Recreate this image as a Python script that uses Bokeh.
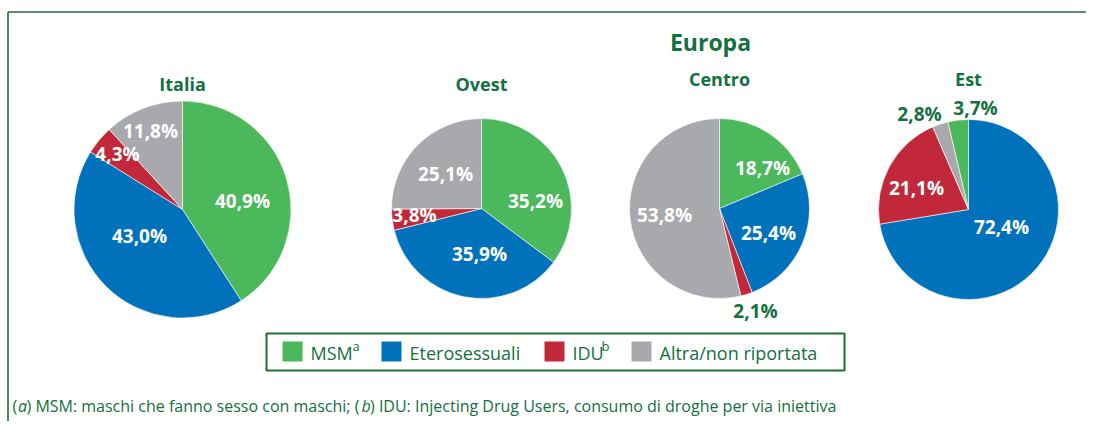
import numpy as np
from bokeh.plotting import figure
from bokeh.models import Range1d, ColumnDataSource
from bokeh.core.properties import value
from bokeh.embed import file_html
from bokeh.resources import INLINE

# ---------------- data ----------------
categories = ["MSM", "Eterosessuali", "IDU", "Altra/non riportata"]
regions = ["Italia", "Ovest", "Centro", "Est"]
italia = [40.9, 43.0, 4.3, 11.8]
ovest = [35.2, 35.9, 3.8, 25.1]
centro = [18.7, 25.4, 2.1, 53.8]
est = [3.7, 72.4, 21.1, 2.8]
group_title = "Europa"
footnote = ["(", "a", ") MSM: maschi che fanno sesso con maschi; (", "b",
            ") IDU: Injecting Drug Users, consumo di droghe per via iniettiva"]

# ---------------- style / layout ----------------
colors = ["#4BB85C", "#0072BC", "#C1283A", "#A7A9AC"]
dark = "#137040"
FONT = "Open Sans"
H = 437

def Y(sy):  # screen y -> data y
    return H - sy

p = figure(width=1086, height=421, x_range=Range1d(0, 1086), y_range=Range1d(16, 437),
           output_backend="svg", toolbar_location=None, min_border=0)
p.axis.visible = False
p.grid.visible = False
p.outline_line_color = None
p.background_fill_color = "white"
p.border_fill_color = "white"

# frame lines
p.segment(x0=[7.5, 7.5], y0=[Y(11.5), Y(11.5)], x1=[1086, 7.5], y1=[Y(11.5), 16],
          line_color="#1F6B3A", line_width=1.6)

# pies: (values, centre x, centre y (screen), radius, start offset (fraction), title pos, label offsets, outside flags)
pies = [
    (italia, 182, 209, 108.5, 0.0, (182, 83),
     [(60, -9), (-43, 26), (-65, -56), (-32, -79)], [False, False, False, False]),
    (ovest, 481, 208, 90, 0.0, (481, 83),
     [(54, -8), (-2, 45), (-67, 6), (-36, -35)], [False, False, False, False]),
    (centro, 719, 208, 90, 0.0, (719, 78),
     [(43, -41), (49, 24), (36, 102), (-55, 6)], [False, False, True, False]),
    (est, 968, 209, 90, -est[0] / 100.0, (968, 78),
     [(7, -102), (33, 17), (-52, -22), (-49, -96)], [True, False, False, True]),
]

for (vals, cx, cy, r, off, tpos, loffs, outside), name in zip(pies, regions):
    v = np.array(vals, dtype=float)
    frac = v / v.sum()
    cum = np.concatenate([[0.0], np.cumsum(frac)]) + off
    # clockwise from 12 o'clock
    start = np.pi / 2 - 2 * np.pi * cum[1:]
    end = np.pi / 2 - 2 * np.pi * cum[:-1]
    src = ColumnDataSource(dict(x=[cx] * 4, y=[Y(cy)] * 4, s=start, e=end, c=colors))
    p.wedge(x="x", y="y", radius=r, start_angle="s", end_angle="e", fill_color="c",
            line_color="white", line_width=0.6, source=src)
    labels = [f"{x:.1f}".replace(".", ",") + "%" for x in vals]
    lx = [cx + d[0] for d in loffs]
    ly = [Y(cy + d[1]) for d in loffs]
    lc = [dark if o else "white" for o in outside]
    p.text(x=lx, y=ly, text=labels, text_color=lc, text_font=value(FONT),
           text_font_style="bold", text_font_size="19px", text_align="center",
           text_baseline="middle")
    p.text(x=[tpos[0]], y=[Y(tpos[1])], text=[name], text_color=dark, text_font=value(FONT),
           text_font_style="bold", text_font_size="18px", text_align="center",
           text_baseline="middle")

p.text(x=[710], y=[Y(41)], text=[group_title], text_color=dark, text_font=value(FONT),
       text_font_style="bold", text_font_size="23px", text_align="center", text_baseline="middle")

# legend box
p.quad(left=[266], right=[844], top=[Y(333)], bottom=[Y(370)], fill_color=None,
       line_color="#1F6B3A", line_width=2)
sq_x = [282, 381, 544, 631]
txt_x = [310, 409, 572, 659]
p.quad(left=sq_x, right=[x + 20 for x in sq_x], top=[Y(341)] * 4, bottom=[Y(361)] * 4,
       fill_color=colors, line_color=None)
leg_text = ["MSM", categories[1], "IDU", categories[3]]
p.text(x=txt_x, y=[Y(352)] * 4, text=leg_text, text_color=dark, text_font=value(FONT),
       text_font_size="18px", text_align="left", text_baseline="middle")
p.text(x=[352, 601], y=[Y(345)] * 2, text=["a", "b"], text_color=dark, text_font=value(FONT),
       text_font_size="13px", text_align="left", text_baseline="middle")

# footnote
fx = [12, 17.5, 26, 361, 369.5]
fstyle = ["normal", "italic", "normal", "italic", "normal"]
for t, x, st in zip(footnote, fx, fstyle):
    p.text(x=[x], y=[Y(405)], text=[t], text_color=dark, text_font=value(FONT),
           text_font_style=st, text_font_size="16px", text_align="left", text_baseline="middle")

open("out.html", "w").write(file_html(p, INLINE))
